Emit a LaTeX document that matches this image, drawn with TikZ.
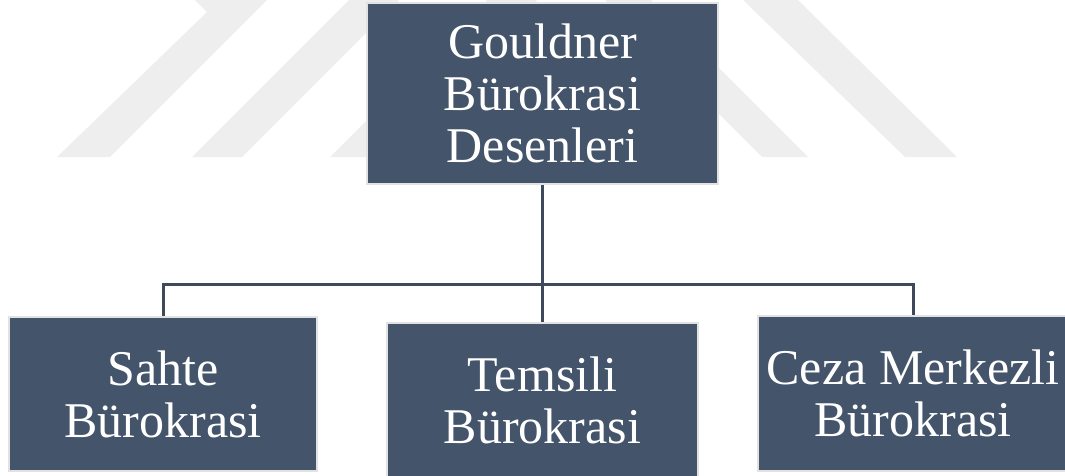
\documentclass[tikz,border=0pt]{standalone}
\usepackage{fontspec}
\setmainfont{Liberation Serif}
\definecolor{boxc}{RGB}{68,84,106}
\definecolor{linec}{RGB}{62,74,92}
\definecolor{edgec}{RGB}{226,226,226}
\definecolor{wm}{RGB}{238,238,238}
\tikzset{
  orgbox/.style={rectangle, fill=boxc, draw=edgec, line width=2pt, text=white,
    align=center, inner sep=0pt, font=\fontsize{50}{52}\selectfont},
  conn/.style={draw=linec, line width=3pt},
  wmark/.style={fill=wm, draw=none}
}
\begin{document}
\begin{tikzpicture}[x=1pt, y=-1pt]
\useasboundingbox (0,0) rectangle (1065,475);
% watermark
\fill[wmark] (57,157) -- (207,12) -- (195,0) -- (267,0) -- (110,157) -- cycle;
\fill[wmark] (192,157) -- (349,0) -- (399,0) -- (242,157) -- cycle;
\fill[wmark] (330,157) -- (487,0) -- (537,0) -- (380,157) -- cycle;
\fill[wmark] (605,0) -- (651,0) -- (808,157) -- (762,157) -- cycle;
\fill[wmark] (743,0) -- (798,0) -- (957,157) -- (905,157) -- cycle;
% connectors
\coordinate (j) at (542.5,284);
% boxes
\node[orgbox, minimum width=351pt, minimum height=181pt] (top) at (542.5,93.5) {Gouldner\\Bürokrasi\\Desenleri};
\node[orgbox, minimum width=308pt, minimum height=154pt] (sahte) at (163,394) {Sahte\\Bürokrasi};
\node[orgbox, minimum width=311pt, minimum height=154pt] (temsili) at (542.5,400) {Temsili\\Bürokrasi};
\node[orgbox, minimum width=310pt, minimum height=155pt] (ceza) at (913,393.5) {Ceza Merkezli\\Bürokrasi};
\draw[conn] (top.south) -- (j);
\draw[conn] (sahte.north) |- (j) -| (ceza.north);
\draw[conn] (j) -- (temsili.north);
\end{tikzpicture}
\end{document}
